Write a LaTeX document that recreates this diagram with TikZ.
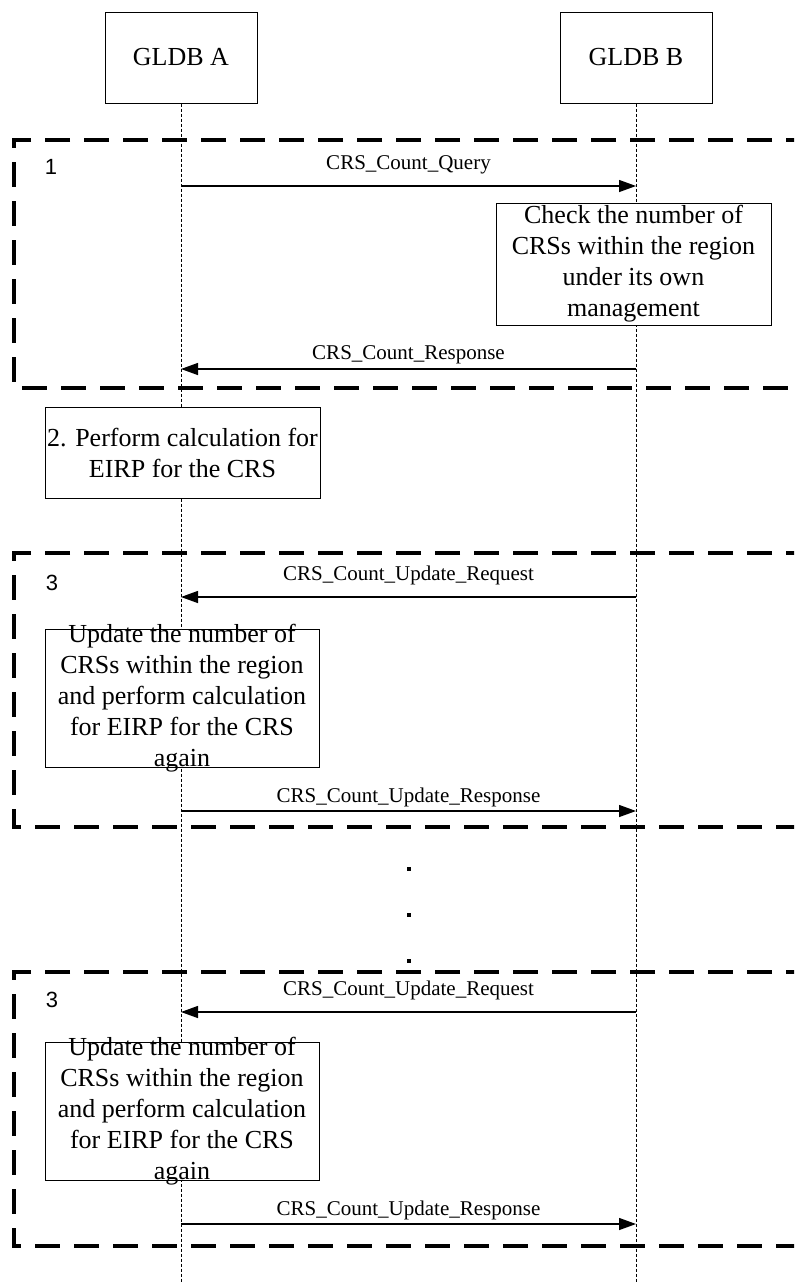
\documentclass[tikz,border=0pt]{standalone}
\usepackage{fontspec}
\setmainfont{Liberation Serif}
\newfontfamily\sansf{Liberation Sans}
\usetikzlibrary{arrows.meta}
\begin{document}
\begin{tikzpicture}[x=0.75pt,y=-0.75pt,
  ent/.style={draw, fill=white, line width=0.75pt, inner sep=0pt,
    minimum width=152*0.75pt, minimum height=91*0.75pt,
    font=\fontsize{19.5}{23.25}\selectfont},
  actbox/.style={draw, fill=white, line width=0.75pt, inner sep=0pt, align=center,
    font=\fontsize{19.5}{23.25}\selectfont},
  acttext/.style={inner sep=0pt, align=center, font=\fontsize{19.5}{23.25}\selectfont},
  lifeline/.style={line width=0.75pt, dash pattern=on 2.25pt off 1.5pt},
  msg/.style={line width=1pt, -{Triangle[length=12.75pt,width=9pt]}},
  lbl/.style={midway, inner sep=0pt, yshift=#1, font=\fontsize{15.75}{18}\selectfont},
  frame/.style={line width=2.6pt, dash pattern=on 18.75pt off 10.5pt, dash phase=15pt},
  num/.style={inner sep=0pt, font=\sansf\fontsize{16.5}{20}\selectfont},
  dot/.style={fill=black}
]
\useasboundingbox (0,0) rectangle (794,1282);
\clip (0,0) rectangle (794,1282);

% entities
\node[ent] (A) at (181,57.5) {GLDB A};
\node[ent] (B) at (636,57.5) {GLDB B};
\coordinate (Aend) at (181,1284);
\coordinate (Bend) at (636,1284);
\draw[lifeline] (A) -- (Aend);
\draw[lifeline] (B) -- (Bend);

% frames
\draw[frame] (830,140) -- (14,140) -- (14,388) -- (830,388);
\draw[frame] (830,553) -- (14,553) -- (14,827) -- (830,827);
\draw[frame] (830,972) -- (14,972) -- (14,1246) -- (830,1246);
\node[num] (n1) at (51,167) {1};
\node[num] (n3a) at (52,583) {3};
\node[num] (n3b) at (52,1000) {3};

% step 1
\coordinate (m1a) at (181,186); \coordinate (m1b) at (636,186);
\draw[msg] (m1a) -- node[lbl=16pt] {CRS\_Count\_Query} (m1b);
\node[actbox, minimum width=275*0.75pt, minimum height=122*0.75pt] (chk) at (633.5,264)
  {Check the number of\\CRSs within the region\\under its own\\management};
\coordinate (m2a) at (181,369); \coordinate (m2b) at (636,369);
\draw[msg] (m2b) -- node[lbl=10.5pt] {CRS\_Count\_Response} (m2a);

% step 2
\node[actbox, minimum width=275*0.75pt, minimum height=91*0.75pt] (calc) at (182.5,452.5)
  {2. Perform calculation for\\EIRP for the CRS};

% step 3 (first)
\coordinate (m3a) at (181,597); \coordinate (m3b) at (636,597);
\draw[msg] (m3b) -- node[lbl=16.5pt] {CRS\_Count\_Update\_Request} (m3a);
\node[draw, fill=white, line width=0.75pt, minimum width=274*0.75pt, minimum height=138*0.75pt] (up1) at (182,698) {};
\node[acttext] (up1t) at (182,698.5)
  {Update the number of\\CRSs within the region\\and perform calculation\\for EIRP for the CRS\\again};
\coordinate (m4a) at (181,811); \coordinate (m4b) at (636,811);
\draw[msg] (m4a) -- node[lbl=10.5pt] {CRS\_Count\_Update\_Response} (m4b);

% dots
\fill[dot] (407,866.5) rectangle (411,870.5);
\fill[dot] (407,913) rectangle (411,917);
\fill[dot] (407,958.5) rectangle (411,962.5);

% step 3 (again)
\coordinate (m5a) at (181,1012); \coordinate (m5b) at (636,1012);
\draw[msg] (m5b) -- node[lbl=16.5pt] {CRS\_Count\_Update\_Request} (m5a);
\node[draw, fill=white, line width=0.75pt, minimum width=274*0.75pt, minimum height=138*0.75pt] (up2) at (182,1111) {};
\node[acttext] (up2t) at (182,1111.5)
  {Update the number of\\CRSs within the region\\and perform calculation\\for EIRP for the CRS\\again};
\coordinate (m6a) at (181,1224); \coordinate (m6b) at (636,1224);
\draw[msg] (m6a) -- node[lbl=10.5pt] {CRS\_Count\_Update\_Response} (m6b);
\end{tikzpicture}
\end{document}
